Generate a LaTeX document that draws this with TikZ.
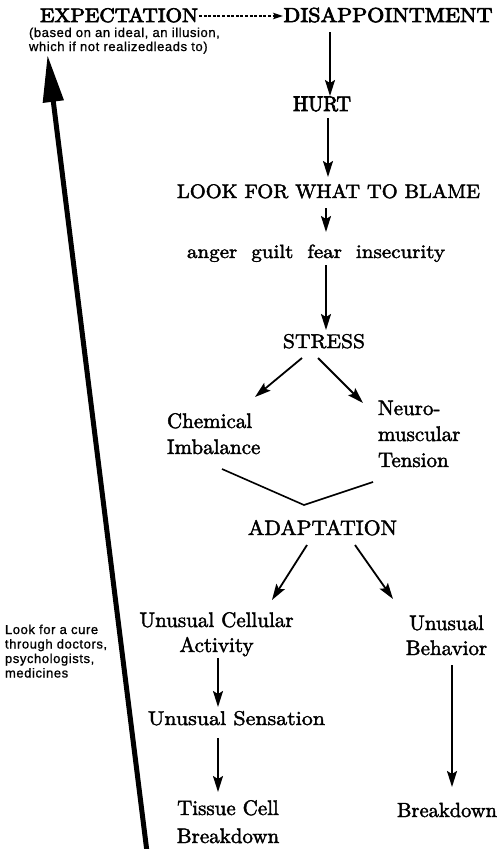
\documentclass[tikz,border=0pt]{standalone}
\usepackage{fontspec}
\usepackage{graphicx}
\setmainfont[FakeBold=2]{lmroman10-regular.otf}
\newfontfamily\heavyfont[FakeBold=3.5]{lmroman10-regular.otf}
\newfontfamily\notefont[LetterSpace=4.5,FakeBold=1]{Liberation Sans}
\usetikzlibrary{arrows.meta,calc}
\newcommand\fitw[3]{\resizebox{#1pt}{#2pt}{#3}}
\newcommand\stk[2]{\begin{tabular}[t]{@{}#1@{}}#2\end{tabular}}
\begin{document}
\begin{tikzpicture}[x=1pt,y=-1pt,
  every node/.style={inner sep=0pt,outer sep=0pt},
  hd/.style={anchor=base,font=\heavyfont},
  rg/.style={anchor=base,font=\bfseries},
  lbl/.style={anchor=base,font=\bfseries\fontsize{21}{26}\selectfont},
  note/.style={anchor=base west,font=\notefont\fontsize{13}{14.5}\selectfont},
  arr/.style={line width=1.8pt,-{Stealth[length=16pt,width=10pt,inset=3pt]}},
  dasharr/.style={line width=1.2pt,dash pattern=on 3pt off 1.6pt,-{Stealth[length=10pt,width=6.5pt,inset=2pt]}},
  bigarr/.style={line width=5pt,-{Triangle[length=47pt,width=20pt]}},
  bracket/.style={line width=1.6pt}]
\fill[white] (0,0) rectangle (499,849);
\useasboundingbox (0,0) rectangle (499,849);

\node[hd] (exp) at (119,22) {\fitw{158}{14}{EXPECTATION}};
\node[hd] (dis) at (388,22) {\fitw{209}{14.5}{DISAPPOINTMENT}};
\node[note,font=\notefont\fontsize{13}{14}\selectfont] (based) at (29,37) {\stk{l}{(based on an ideal, an illusion,\\which if not realizedleads to)}};
\node[hd] (hurt) at (322,111) {\fitw{58}{14.5}{HURT}};
\node[rg] (blame) at (328.5,198) {\fitw{303}{14}{LOOK FOR WHAT TO BLAME}};
\node[rg] (feel) at (316,258) {\fitw{258}{13.5}{anger\ \ guilt\ \ fear\ \ insecurity}};
\node[rg] (stress) at (324,348) {\fitw{82}{14}{STRESS}};
\node[lbl,anchor=base west] (chem) at (167,428) {\stk{l}{Chemical\\Imbalance}};
\node[lbl,anchor=base west] (neuro) at (378,415) {\stk{l}{Neuro-\\muscular\\Tension}};
\node[rg] (adapt) at (322.5,535) {\fitw{149}{15}{ADAPTATION}};
\node[lbl,font=\bfseries\fontsize{21}{25}\selectfont] (cell) at (216.5,627) {\stk{c}{Unusual Cellular\\Activity}};
\node[lbl,font=\bfseries\fontsize{21}{25}\selectfont] (beh) at (446.5,630) {\stk{c}{Unusual\\Behavior}};
\node[rg] (sens) at (236.5,725) {\fitw{177}{14}{Unusual Sensation}};
\node[lbl,font=\bfseries\fontsize{21}{28}\selectfont] (tissue) at (228,815) {\stk{c}{Tissue Cell\\Breakdown}};
\node[lbl,anchor=base west,font=\bfseries\fontsize{20.5}{26}\selectfont] (brk) at (397,817) {Breakdown};
\node[note] (cure) at (5,634) {\stk{l}{Look for a cure\\through doctors,\\psychologists,\\medicines}};

\coordinate (cb) at (147,852);

\draw[dasharr] ($(exp.base)+(80,-6)$) -- ($(dis.base)+(-105,-6)$);
\draw[arr] ($(dis.base)+(-58,10)$) -- ($(hurt.base)+(8,-15)$);
\draw[arr] ($(hurt.base)+(6,7)$) -- ($(blame.base)+(-0.5,-21)$);
\draw[arr] ($(blame.base)+(-2.5,10)$) -- ($(feel.base)+(10,-26)$);
\draw[arr] ($(feel.base)+(10,7)$) -- ($(stress.base)+(2,-18)$);
\draw[arr] ($(stress.base)+(-22,10)$) -- ($(chem.base west)+(88,-31)$);
\draw[arr] ($(stress.base)+(-6,10)$) -- ($(neuro.base west)+(-15,-12)$);
\draw[bracket] ($(chem.base west)+(55,41)$) -- ($(adapt.base)+(-18.5,-30)$) -- ($(neuro.base west)+(-5,67)$);
\draw[arr] ($(adapt.base)+(-15.5,10)$) -- ($(cell.base)+(55.5,-27)$);
\draw[arr] ($(adapt.base)+(32.5,10)$) -- ($(beh.base)+(-53.5,-31)$);
\draw[arr] ($(cell.base)+(1.5,31)$) -- ($(sens.base)+(-18.5,-18)$);
\draw[arr] ($(sens.base)+(-18.5,13)$) -- ($(tissue.base)+(-10,-23)$);
\draw[arr] ($(beh.base)+(5.5,35)$) -- ($(brk.base west)+(55,-30)$);
\draw[bigarr] (cb) -- ($(based.base west)+(18.5,18)$);
\end{tikzpicture}
\end{document}
